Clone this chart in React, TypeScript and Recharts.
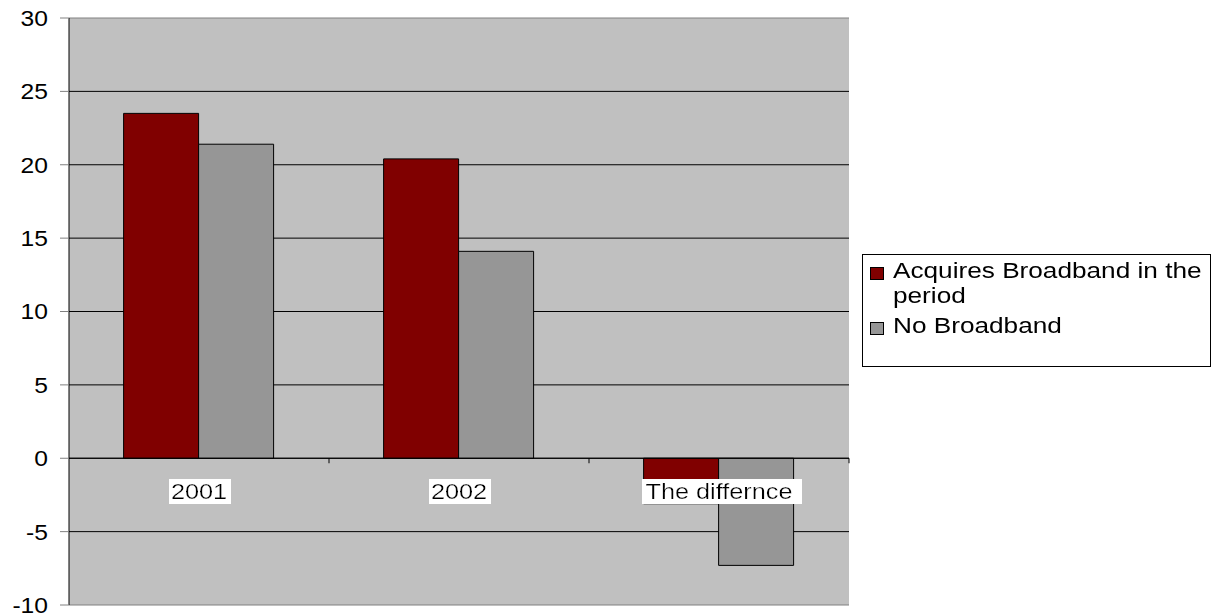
import React from 'react';
import { BarChart, Bar, XAxis, YAxis, CartesianGrid, ReferenceLine, Legend } from 'recharts';

// Categories and series values
const categories = ['2001', '2002', 'The differnce'];
const acquiresBroadband = [23.5, 20.4, -3.1];
const noBroadband = [21.4, 14.1, -7.3];
const yTicks = [-10, -5, 0, 5, 10, 15, 20, 25, 30];
const gridValues = [-5, 0, 5, 10, 15, 20, 25];

const SERIES = [
  { key: 'acquires', name: 'Acquires Broadband in the period', color: '#800000' },
  { key: 'none', name: 'No Broadband', color: '#969696' },
];

const data = categories.map((category, i) => ({
  category,
  acquires: acquiresBroadband[i],
  none: noBroadband[i],
}));

const WIDTH = 1217;
const HEIGHT = 613;
const X_AXIS_H = 1;
const MARGIN = { top: 18, right: 368, bottom: 7, left: 0 };
const Y_AXIS_W = 69;
const Y_MIN = -10;
const Y_MAX = 30;
const PLOT_LEFT = MARGIN.left + Y_AXIS_W;
const PLOT_W = WIDTH - MARGIN.right - PLOT_LEFT;
const PLOT_H = HEIGHT - MARGIN.top - MARGIN.bottom - X_AXIS_H;
const valueToY = (v: number) => MARGIN.top + ((Y_MAX - v) / (Y_MAX - Y_MIN)) * PLOT_H;

const FONT = '"Liberation Sans", Arial, sans-serif';
const Y_STRETCH = 1.12;
const X_STRETCH = 1.15;
const LEGEND_STRETCH = 1.19;

const YTick = (props: any) => {
  const { x, y, payload } = props;
  return (
    <text
      transform={`translate(${x},${y}) scale(${Y_STRETCH},1)`}
      textAnchor="end"
      dy="0.36em"
      fontSize={22}
      fontFamily={FONT}
      fill="#000"
    >
      {payload.value}
    </text>
  );
};

// Category labels sit just under the zero line on a white box,
// with tick marks between categories on the zero line.
const XTick = (props: any) => {
  const { x, payload } = props;
  const zeroY = valueToY(0);
  const band = PLOT_W / categories.length;
  return (
    <g>
      <defs>
        <filter id="labelBg" x="-0.02" y="0" width="1.08" height="1">
          <feFlood floodColor="#ffffff" />
          <feComposite in="SourceGraphic" operator="over" />
        </filter>
      </defs>
      <line x1={x + band / 2} x2={x + band / 2} y1={zeroY} y2={zeroY + 5} stroke="#000" strokeWidth={1} />
      <text
        transform={`translate(${x},${zeroY + 41}) scale(${X_STRETCH},1)`}
        textAnchor="middle"
        fontSize={22}
        fontFamily={FONT}
        fill="#000"
        filter="url(#labelBg)"
      >
        {payload.value}
      </text>
    </g>
  );
};

const LegendBox = (props: any) => {
  const payload = props.payload || [];
  return (
    <div
      style={{
        width: 349,
        height: 113,
        boxSizing: 'border-box',
        border: '1px solid #000',
        background: '#fff',
        fontFamily: FONT,
        fontSize: 22,
        lineHeight: '25px',
        paddingTop: 3,
        paddingLeft: 7,
      }}
    >
      {payload.map((entry: any, i: number) => (
        <div key={i} style={{ display: 'flex', alignItems: 'flex-start', marginBottom: 5 }}>
          <div
            style={{
              width: 14,
              height: 13,
              boxSizing: 'border-box',
              marginTop: 8.5,
              marginRight: 9,
              background: entry.color,
              border: '1px solid #000',
              flex: 'none',
            }}
          />
          <div
            style={{
              width: 264,
              color: '#000',
              transform: `scaleX(${LEGEND_STRETCH})`,
              transformOrigin: 'left top',
            }}
          >
            {entry.value}
          </div>
        </div>
      ))}
    </div>
  );
};

export default function App() {
  return (
    <div style={{ position: 'absolute', left: 0, top: 0, background: '#fff' }}>
      <BarChart
        width={WIDTH}
        height={HEIGHT}
        data={data}
        margin={MARGIN}
        barCategoryGap="21%"
        barGap={0}
      >
        <CartesianGrid
          vertical={false}
          horizontalValues={gridValues}
          stroke="#000"
          fill="#C0C0C0"
          fillOpacity={1}
        />
        <XAxis
          dataKey="category"
          height={X_AXIS_H}
          axisLine={false}
          tickLine={false}
          interval={0}
          tick={<XTick />}
        />
        <YAxis
          domain={[Y_MIN, Y_MAX]}
          ticks={yTicks}
          interval={0}
          width={Y_AXIS_W}
          axisLine={{ stroke: '#000' }}
          tickLine={{ stroke: '#808080' }}
          tickSize={9}
          tickMargin={12}
          tick={<YTick />}
          allowDataOverflow
        />
        <YAxis
          yAxisId="right"
          orientation="right"
          domain={[Y_MIN, Y_MAX]}
          width={0}
          axisLine={{ stroke: '#808080' }}
          tickLine={false}
          tick={false}
        />
        <ReferenceLine y={Y_MAX} stroke="#808080" />
        <ReferenceLine y={Y_MIN} stroke="#808080" />
        {SERIES.map((s) => (
          <Bar
            key={s.key}
            dataKey={s.key}
            name={s.name}
            fill={s.color}
            stroke="#000"
            strokeWidth={1}
            isAnimationActive={false}
          />
        ))}
        <ReferenceLine y={0} stroke="#000" />
        <Legend
          layout="horizontal"
          verticalAlign="middle"
          align="center"
          wrapperStyle={{ left: 862, top: 254, width: 349, height: 113 }}
          content={<LegendBox />}
        />
      </BarChart>
    </div>
  );
}
